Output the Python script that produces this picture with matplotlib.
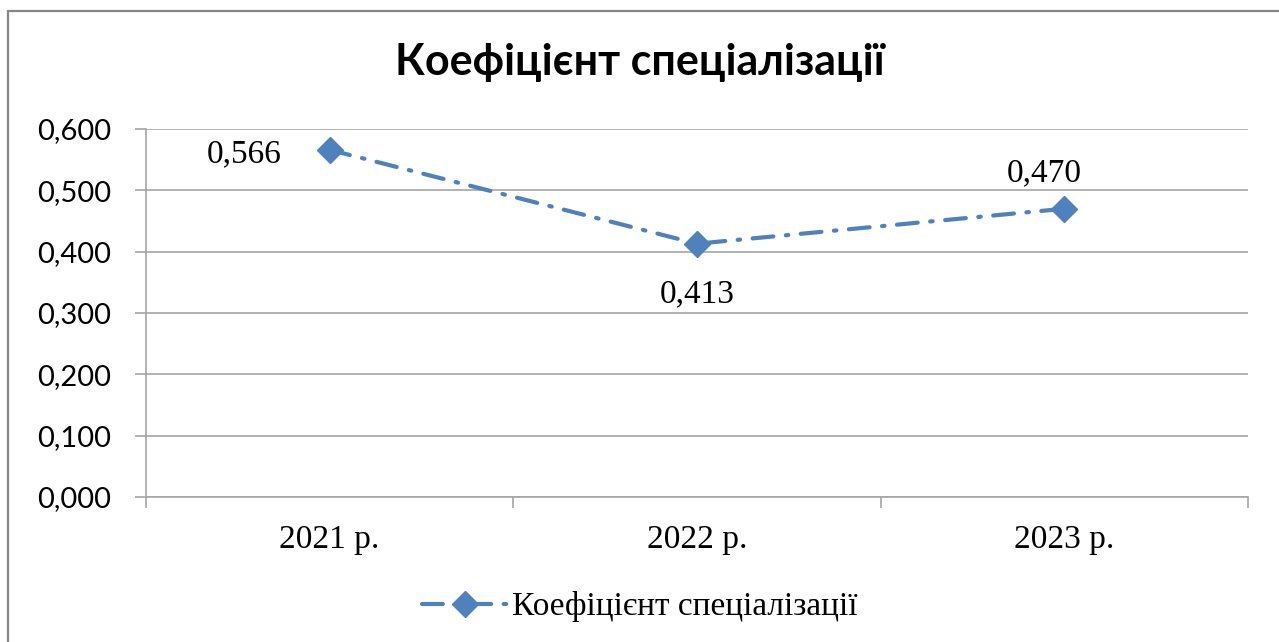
import matplotlib
matplotlib.use("Agg")
import matplotlib.pyplot as plt
from matplotlib.patches import Rectangle

# data
years = ['2021 р.', '2022 р.', '2023 р.']
values = [0.566, 0.413, 0.470]
value_labels = ['0,566', '0,413', '0,470']
yticks = [0.0, 0.1, 0.2, 0.3, 0.4, 0.5, 0.6]
series_name = 'Коефіцієнт спеціалізації'

blue = '#4F81BD'
grid_gray = '#A6A6A6'
W, H = 1279, 642

fig = plt.figure(figsize=(W / 100, H / 100), dpi=100)
fig.patch.set_facecolor('white')

# outer chart border (runs off the right and bottom of the picture)
fig.patches.append(Rectangle((8 / W, -0.05), 1.2, 1 - 11 / H + 0.05,
                             transform=fig.transFigure, fill=False,
                             edgecolor='#868686', linewidth=1.6))

ax = fig.add_axes([146 / W, 1 - 497 / H, (1248 - 146) / W, (497 - 129) / H])

x = list(range(len(years)))
ax.plot(x, values, color=blue, linewidth=3, linestyle=(0, (5, 3, 0.6, 3)),
        dash_capstyle='round',
        marker='D', markersize=13, markerfacecolor=blue, markeredgecolor=blue,
        label=series_name, zorder=3)

ax.set_xlim(-0.5, len(years) - 0.5)
ax.set_ylim(0, 0.6)
ax.set_yticks(yticks)
ax.set_yticklabels(['{:.3f}'.format(v).replace('.', ',') for v in yticks],
                   fontfamily='Lato', fontsize=21)
ax.yaxis.grid(True, color=grid_gray, linewidth=1.2)
ax.set_axisbelow(True)

ax.set_xticks(x)
ax.set_xticklabels(years, fontfamily='Liberation Serif', fontsize=24)
ax.set_xticks([-0.5, 0.5, 1.5, 2.5], minor=True)
ax.tick_params(axis='x', which='major', length=0, pad=20)
ax.tick_params(axis='x', which='minor', length=8, color=grid_gray, width=1.2)
ax.tick_params(axis='y', length=8, color=grid_gray, width=1.2, pad=17)

for s in ['top', 'right']:
    ax.spines[s].set_visible(False)
for s in ['left', 'bottom']:
    ax.spines[s].set_color(grid_gray)
    ax.spines[s].set_linewidth(1.2)

# data labels
offsets = [(-85, -4), (0, -50), (-20, 36)]
for xi, v, lab, off in zip(x, values, value_labels, offsets):
    ax.annotate(lab, (xi, v), xytext=off, textcoords='offset pixels',
                ha='center', va='center', fontfamily='Liberation Serif',
                fontsize=24)

fig.text(0.5, 1 - 62 / H, series_name, ha='center', va='center',
         fontfamily='Lato', fontweight='bold', fontsize=31)

leg = fig.legend(loc='center', bbox_to_anchor=(0.5, 1 - 607 / H), frameon=False,
                 prop={'family': 'Liberation Serif', 'size': 24},
                 handlelength=2.6, handletextpad=0.1)

fig.savefig('out.png', dpi=100, facecolor='white')
